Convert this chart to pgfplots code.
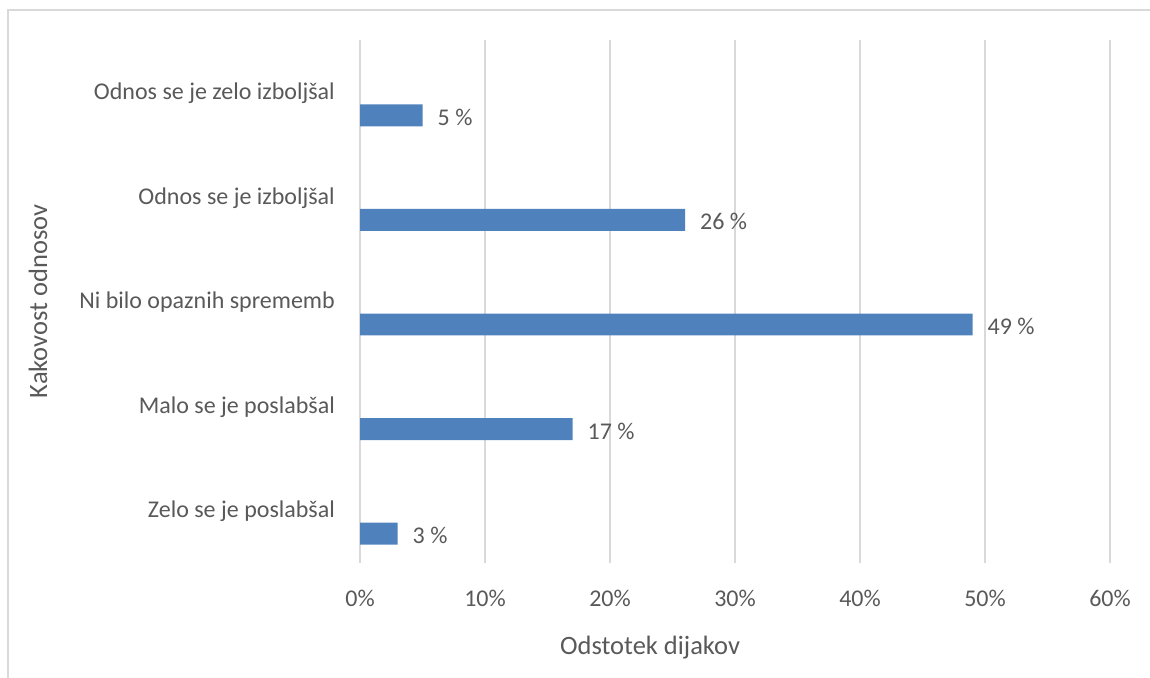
\documentclass[border=0pt]{standalone}
\usepackage{fontspec}
\setmainfont{Carlito}
\usepackage{pgfplots}
\pgfplotsset{compat=1.18}
\definecolor{barblue}{RGB}{79,129,189}
\definecolor{txt}{RGB}{89,89,89}
\definecolor{gridgray}{RGB}{217,217,217}
\begin{document}
\begin{tikzpicture}[x=1pt,y=1pt]
\path[use as bounding box] (0,0) rectangle (1150,677);
\draw[gridgray, line width=1.5pt] (1160,667) -- (8,667) -- (8,-10);
\begin{axis}[
  at={(360pt,114pt)}, anchor=south west,
  scale only axis, width=750pt, height=523pt,
  xmin=0, xmax=60, ymin=-0.5, ymax=4.5,
  xbar, bar width=0.21, bar shift=-0.22,
  axis line style={draw=none},
  major tick length=0pt,
  xtick={0,10,...,60},
  xticklabel={\pgfmathprintnumber{\tick}\%},
  ytick={0,1,2,3,4},
  yticklabels={Zelo se je poslabšal, Malo se je poslabšal, Ni bilo opaznih sprememb, Odnos se je izboljšal, Odnos se je zelo izboljšal},
  xmajorgrids=true, ymajorgrids=false,
  major grid style={draw=gridgray, line width=1.5pt},
  /pgf/number format/assume math mode=true,
  tick label style={font=\fontsize{24}{28}\selectfont, text=txt},
  xticklabel style={anchor=center, inner sep=0pt, yshift=-35pt},
  yticklabel style={anchor=east, inner sep=0pt, xshift=-25pt, yshift=-1pt},
  label style={font=\fontsize{26.5}{31}\selectfont, text=txt},
  xlabel={Odstotek dijakov},
  xlabel style={at={(axis description cs:0.3867,-0.1625)}, anchor=center},
  ylabel={Kakovost odnosov},
  ylabel style={at={(axis description cs:-0.4293,0.5)}, anchor=center, rotate=0},
  nodes near coords={\pgfmathprintnumber{\pgfplotspointmeta}~\%},
  every node near coord/.append style={anchor=west, inner sep=0pt, xshift=15pt, yshift=-2pt, font=\fontsize{24}{28}\selectfont, text=txt},
]
\addplot[fill=barblue, draw=none] coordinates {(3,0) (17,1) (49,2) (26,3) (5,4)};
\end{axis}
\end{tikzpicture}
\end{document}
